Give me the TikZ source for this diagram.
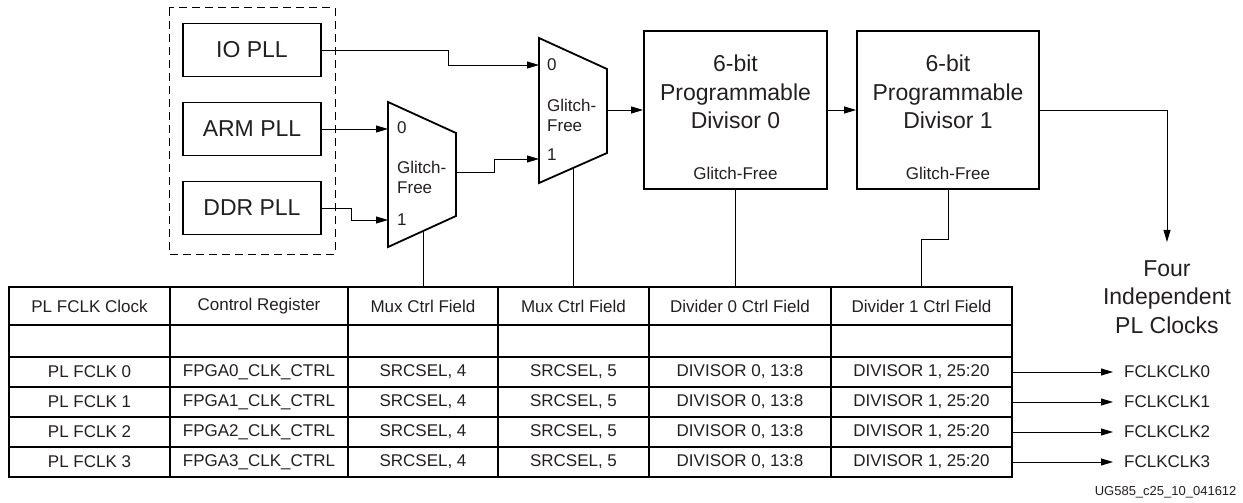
\documentclass[tikz,border=0pt]{standalone}
\usepackage{fontspec}
\setmainfont{Liberation Sans}
\usetikzlibrary{arrows.meta, positioning, calc}
\definecolor{mydark}{RGB}{35,31,32}
\newcommand{\lblbig}{\fontsize{23}{28.5}\selectfont}
\newcommand{\lblmid}{\fontsize{17}{20}\selectfont}
\newcommand{\lbltab}{\fontsize{17}{20}\selectfont}
\newcommand{\lblsmall}{\fontsize{13}{15}\selectfont}
\tikzset{
  pllbox/.style={rectangle, draw=black, line width=1.8pt,
    minimum width=138pt, minimum height=53pt, font=\lblbig, text=mydark},
  divbox/.style={rectangle, draw=black, line width=1.8pt,
    minimum width=183pt, minimum height=158pt, inner sep=0pt},
  divtext/.style={align=center, font=\lblbig, text=mydark},
  cell/.style={rectangle, draw=black, line width=1.1pt, inner sep=0pt,
    font=\lbltab, text=mydark},
  muxshape/.style={draw=black, line width=1.8pt, line join=miter},
  muxlbl/.style={anchor=west, align=left, inner sep=2pt, font=\lblmid, text=mydark},
  arrow/.style={-{Triangle[length=12pt, width=7pt]}, line width=0.9pt, color=black},
  line/.style={line width=0.9pt, color=black}
}

\begin{document}
\begin{tikzpicture}[x=1pt, y=-1pt]
  \useasboundingbox (0,0) rectangle (1243,503);

  % PLL sources
  \draw[line width=1pt, dash pattern=on 8pt off 5pt] (169,8) rectangle (335,254);
  \node[pllbox] (io) at (252,50) {IO PLL};
  \node[pllbox] (arm) at (252,129) {ARM PLL};
  \node[pllbox] (ddr) at (252,208) {DDR PLL};

  % Mux 1
  \draw[muxshape] (388,102) -- (456,133) -- (456,216) -- (388,247) -- cycle;
  \coordinate (m1in0) at (388,129);
  \coordinate (m1in1) at (388,220);
  \coordinate (m1out) at (456,172);
  \coordinate (m1sel) at (423,231);
  \node[muxlbl] (m1zero) at (395,128) {0};
  \node[muxlbl] (m1gf) at (395,177) {Glitch-\\Free};
  \node[muxlbl] (m1one) at (395,220) {1};

  % Mux 2
  \draw[muxshape] (539,38) -- (607,69) -- (607,153) -- (539,183) -- cycle;
  \coordinate (m2in0) at (539,65);
  \coordinate (m2in1) at (539,159);
  \coordinate (m2out) at (607,110);
  \coordinate (m2sel) at (573.5,168);
  \node[muxlbl] (m2zero) at (545,65) {0};
  \node[muxlbl] (m2gf) at (545,115) {Glitch-\\Free};
  \node[muxlbl] (m2one) at (545,155) {1};

  % Divisors
  \node[divbox] (div0) at (735.5,110) {};
  \node[divtext] (div0txt) at (735.5,92) {6-bit\\Programmable\\Divisor 0};
  \node[muxlbl, anchor=center] (div0gf) at (735.5,173) {Glitch-Free};
  \node[divbox, minimum width=182pt] (div1) at (948,110) {};
  \node[divtext] (div1txt) at (948,92) {6-bit\\Programmable\\Divisor 1};
  \node[muxlbl, anchor=center] (div1gf) at (948,173) {Glitch-Free};

  \node[divtext] (clocks) at (1167,297) {Four\\Independent\\PL Clocks};

  % Register table
  \foreach \x/\w/\txt [count=\c] in {89.5/161/PL FCLK Clock, 259/178/Control Register,
      423/150/Mux Ctrl Field, 573.5/151/Mux Ctrl Field,
      740/182/Divider 0 Ctrl Field, 921.5/181/Divider 1 Ctrl Field} {
    \node[cell, minimum width=\w pt, minimum height=38pt] (c\c-h) at (\x,306) {\txt};
    \node[cell, minimum width=\w pt, minimum height=32pt] (c\c-b) at (\x,341) {};
  }
  \foreach \r in {0,...,3} {
    \pgfmathsetmacro{\yy}{372+30*\r}
    \foreach \x/\w/\txt [count=\c] in {89.5/161/{PL FCLK \r}, 259/178/{FPGA\r\_CLK\_CTRL},
        423/150/{SRCSEL, 4}, 573.5/151/{SRCSEL, 5},
        740/182/{DIVISOR 0, 13:8}, 921.5/181/{DIVISOR 1, 25:20}} {
      \node[cell, minimum width=\w pt, minimum height=30pt] (c\c-\r) at (\x,\yy) {\txt};
    }
    \node[anchor=west, inner xsep=11pt, font=\lblmid, text=mydark] (fclk\r) at (1113,\yy) {FCLKCLK\r};
    \draw[arrow] (c6-\r.east) -- (fclk\r.west);
  }
  \draw[line width=1.6pt] (c1-h.north west) rectangle (c6-3.south east);

  % Arrows
  \draw[arrow] (io.east) -- ++(127,0) |- (m2in0);
  \draw[arrow] (arm.east) -- (m1in0);
  \draw[arrow] (ddr.east) -- ++(30,0) |- (m1in1);
  \draw[arrow] (m1out) -- ++(38,0) |- (m2in1);
  \draw[arrow] (m2out) -- (div0.west);
  \draw[arrow] (div0.east) -- (div1.west);
  \draw[arrow, shorten >=15pt] (div1.east) -| (clocks.north);

  % Control lines
  \draw[line] (m1sel) -- (c3-h.north);
  \draw[line] (m2sel) -- (c4-h.north);
  \draw[line] (div0.south) -- (div0.south |- c5-h.north);
  \draw[line] (div1.south) -- ++(0,50) -| (c6-h.north);

  \node[anchor=east, font=\lblsmall, text=mydark] (figid) at (1240,492) {UG585\_c25\_10\_041612};
\end{tikzpicture}
\end{document}
